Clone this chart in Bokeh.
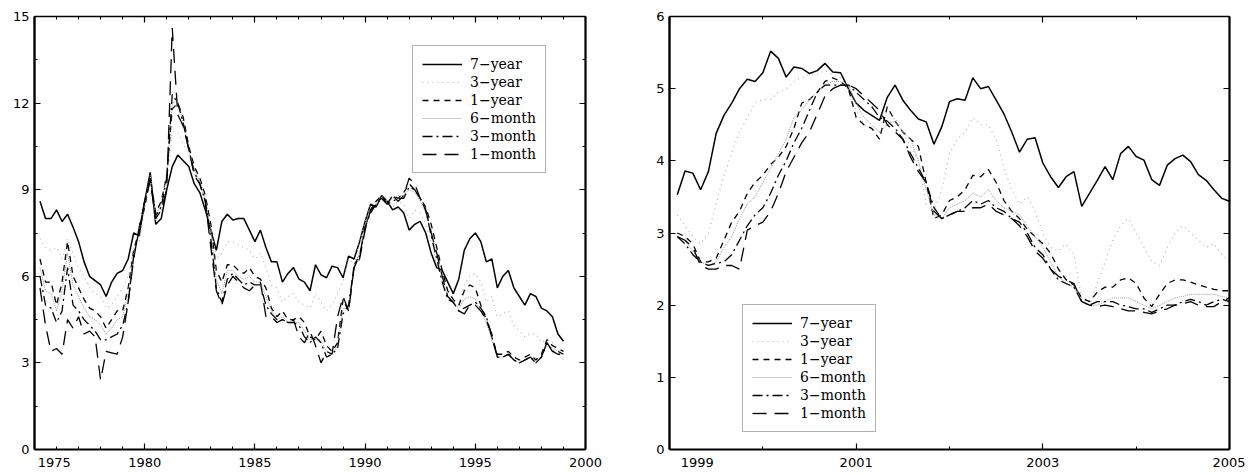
import numpy as np
from bokeh.plotting import figure
from bokeh.models import (FixedTicker, LinearAxis, Legend, LegendItem,
                          CustomJSTickFormatter, Range1d)
from bokeh.layouts import row
from bokeh.embed import file_html
from bokeh.resources import INLINE

# ---------------- data: left panel (quarterly, 1975Q2 .. 1999Q1) -------------
left_start = 1975.25
left_step = 0.25

seven_year_l = [8.6, 8.0, 8.0, 8.3, 7.9, 8.15, 7.7, 7.2, 6.5, 6.0, 5.85, 5.7,
                5.3, 5.8, 6.1, 6.2, 6.6, 7.5, 7.4, 8.6, 9.6, 7.8, 8.0, 9.0,
                9.8, 10.2, 10.0, 9.8, 9.2, 8.9, 8.3, 7.6, 6.9, 7.9, 8.15, 7.95,
                8.0, 8.0, 7.6, 7.2, 7.6, 7.0, 6.5, 6.5, 5.8, 6.1, 6.3, 5.9,
                5.8, 5.5, 6.4, 6.05, 5.95, 6.35, 6.3, 5.95, 6.7, 6.6, 7.2, 7.9,
                8.5, 8.4, 8.8, 8.6, 8.3, 8.4, 8.2, 7.6, 7.8, 7.9, 7.5, 6.8,
                6.3, 6.2, 5.8, 5.4, 5.9, 6.9, 7.3, 7.5, 7.2, 6.5, 6.6, 5.6,
                6.0, 6.2, 5.6, 5.3, 5.0, 5.4, 5.3, 4.9, 4.8, 4.6, 4.0, 3.75]

three_year_l = [7.3, 7.0, 6.9, 7.0, 6.6, 7.3, 6.8, 6.3, 6.0, 5.6, 5.4, 5.3,
                4.9, 5.0, 5.3, 5.6, 6.0, 7.0, 7.2, 8.3, 9.4, 7.9, 8.3, 9.2,
                11.0, 11.0, 10.6, 10.2, 9.5, 9.2, 8.6, 7.8, 6.6, 6.8, 7.2, 7.2,
                7.1, 7.0, 6.9, 6.6, 6.8, 6.3, 5.7, 5.6, 5.1, 5.3, 5.4, 5.1,
                5.0, 4.9, 5.4, 5.1, 4.8, 5.0, 5.4, 5.8, 6.6, 6.4, 7.2, 7.9,
                8.5, 8.5, 8.8, 8.6, 8.4, 8.6, 8.5, 8.0, 8.3, 8.2, 7.8, 7.2,
                6.4, 6.0, 5.5, 5.0, 5.0, 5.7, 6.0, 6.1, 5.8, 5.1, 5.3, 4.6,
                4.7, 4.8, 4.3, 4.1, 3.9, 4.0, 4.0, 3.7, 3.8, 3.7, 3.5, 3.1]

one_year_l = [6.6, 5.8, 5.8, 5.0, 5.8, 7.2, 6.0, 5.6, 5.2, 4.9, 4.8, 4.6,
              4.2, 4.5, 4.8, 4.8, 5.6, 6.9, 7.6, 8.4, 9.4, 8.2, 8.6, 9.5,
              11.8, 12.0, 11.5, 10.5, 9.8, 9.4, 8.8, 7.8, 6.2, 5.8, 6.4, 6.4,
              6.2, 6.1, 6.3, 6.0, 5.9, 5.6, 4.9, 4.6, 4.8, 4.5, 4.5, 4.6,
              4.4, 3.9, 3.8, 4.1, 3.6, 3.4, 3.7, 5.2, 4.8, 6.4, 6.7, 7.7,
              8.3, 8.6, 8.8, 8.5, 8.8, 8.7, 8.9, 9.2, 9.0, 8.7, 8.4, 7.8,
              7.0, 6.2, 5.5, 5.2, 5.0, 5.5, 5.7, 5.6, 5.0, 4.5, 3.9, 3.3,
              3.3, 3.4, 3.2, 3.1, 3.2, 3.3, 3.1, 3.3, 3.8, 3.6, 3.5, 3.4]

six_month_l = [6.3, 5.5, 5.4, 4.8, 5.5, 6.8, 5.7, 5.3, 4.9, 4.6, 4.5, 4.3,
               4.0, 4.2, 4.5, 4.6, 5.4, 6.8, 7.6, 8.5, 9.5, 8.1, 8.5, 9.6,
               12.0, 12.1, 11.3, 10.4, 9.7, 9.3, 8.7, 7.6, 5.9, 5.4, 6.2, 6.2,
               6.0, 5.9, 6.0, 5.8, 5.8, 5.3, 4.8, 4.5, 4.6, 4.4, 4.4, 4.4,
               4.1, 3.8, 3.8, 3.8, 3.4, 3.3, 3.6, 4.9, 4.9, 6.4, 6.8, 7.8,
               8.2, 8.5, 8.7, 8.5, 8.7, 8.8, 8.8, 9.0, 8.9, 8.6, 8.2, 7.6,
               6.8, 6.0, 5.3, 5.1, 4.9, 5.2, 5.3, 5.2, 4.8, 4.4, 3.8, 3.2,
               3.2, 3.3, 3.1, 3.0, 3.1, 3.2, 3.0, 3.2, 3.7, 3.5, 3.4, 3.3]

three_month_l = [6.0, 5.0, 4.9, 4.4, 4.8, 6.3, 5.0, 4.8, 4.5, 4.3, 4.1, 3.8,
                 3.8, 3.9, 4.0, 4.3, 5.1, 6.7, 7.6, 8.6, 9.4, 8.1, 8.4, 9.4,
                 12.3, 12.0, 11.3, 10.4, 9.6, 9.2, 8.6, 7.3, 5.6, 5.1, 5.9, 6.1,
                 5.9, 5.7, 5.8, 5.7, 5.7, 5.0, 4.7, 4.5, 4.5, 4.4, 4.4, 4.3,
                 3.9, 3.7, 3.9, 3.7, 3.2, 3.3, 3.5, 4.7, 5.0, 6.3, 6.7, 7.7,
                 8.2, 8.5, 8.7, 8.5, 8.6, 8.7, 8.7, 9.1, 9.0, 8.7, 8.3, 7.4,
                 6.6, 5.8, 5.2, 5.1, 4.8, 4.9, 5.0, 5.1, 4.9, 4.6, 3.9, 3.2,
                 3.2, 3.3, 3.1, 3.0, 3.1, 3.2, 3.0, 3.2, 3.7, 3.4, 3.4, 3.3]

one_month_l = [5.6, 4.3, 3.4, 3.5, 3.3, 4.5, 4.2, 4.6, 4.0, 4.1, 3.9, 2.4,
               3.4, 3.35, 3.3, 3.9, 5.1, 6.6, 7.7, 8.6, 9.3, 8.0, 8.3, 9.0,
               14.6, 11.6, 11.2, 10.4, 9.5, 9.2, 8.6, 7.0, 5.5, 5.0, 5.7, 6.0,
               5.8, 5.6, 5.5, 5.7, 5.8, 4.6, 4.6, 4.4, 4.5, 4.4, 4.5, 3.9,
               3.7, 4.1, 3.6, 3.0, 3.4, 3.3, 4.6, 5.3, 4.8, 6.3, 6.6, 7.6,
               8.3, 8.5, 8.7, 8.5, 8.8, 8.6, 8.8, 9.4, 9.2, 8.7, 8.3, 7.5,
               6.8, 6.0, 5.3, 5.1, 4.8, 4.7, 5.0, 5.0, 4.8, 4.5, 4.0, 3.2,
               3.2, 3.3, 3.1, 3.0, 3.1, 3.2, 3.0, 3.2, 3.7, 3.4, 3.3, 3.3]

# ---------------- data: right panel (monthly, Feb 1999 .. Jan 2005) ----------
right_start = 1999.0
months_per_year = 12

seven_year_r = [3.53, 3.86, 3.83, 3.6, 3.85, 4.38, 4.63, 4.8, 5.0, 5.13, 5.1, 5.22,
                5.52, 5.42, 5.16, 5.3, 5.28, 5.21, 5.25, 5.35, 5.23, 5.22, 5.0, 4.8,
                4.7, 4.63, 4.56, 4.88, 5.05, 4.84, 4.7, 4.58, 4.54, 4.23, 4.47, 4.82,
                4.86, 4.84, 5.15, 5.0, 5.03, 4.84, 4.65, 4.4, 4.12, 4.3, 4.32, 3.97,
                3.78, 3.63, 3.78, 3.85, 3.37, 3.55, 3.73, 3.92, 3.74, 4.1, 4.2, 4.06,
                4.01, 3.74, 3.66, 3.94, 4.03, 4.08, 3.99, 3.81, 3.73, 3.6, 3.48, 3.44]

three_year_r = [3.25, 3.1, 2.95, 2.85, 3.0, 3.4, 3.8, 4.1, 4.4, 4.6, 4.8, 4.85,
                4.85, 4.95, 5.0, 5.1, 5.15, 5.2, 5.2, 5.25, 5.2, 5.15, 5.0, 4.7,
                4.5, 4.45, 4.4, 4.5, 4.6, 4.4, 4.2, 4.0, 3.4, 3.3, 3.6, 4.1,
                4.3, 4.4, 4.6, 4.5, 4.5, 4.3, 3.9, 3.6, 3.4, 3.5, 3.3, 3.0,
                2.8, 2.75, 2.85, 2.7, 2.1, 2.0, 2.3, 2.6, 2.9, 3.1, 3.2, 3.0,
                2.8, 2.6, 2.55, 2.8, 3.0, 3.1, 3.0, 2.9, 2.8, 2.85, 2.7, 2.6]

one_year_r = [3.0, 2.95, 2.85, 2.6, 2.6, 2.65, 2.9, 3.15, 3.3, 3.55, 3.7, 3.8,
              3.95, 4.05, 4.2, 4.45, 4.8, 4.85, 4.95, 5.1, 5.15, 5.1, 5.0, 4.6,
              4.5, 4.45, 4.3, 4.75, 4.55, 4.4, 4.3, 4.2, 3.7, 3.2, 3.25, 3.45,
              3.5, 3.6, 3.8, 3.78, 3.88, 3.7, 3.45, 3.3, 3.2, 3.05, 2.95, 2.85,
              2.72, 2.5, 2.35, 2.28, 2.1, 2.05, 2.18, 2.25, 2.25, 2.35, 2.38, 2.3,
              2.1, 1.98, 2.15, 2.3, 2.35, 2.35, 2.32, 2.28, 2.25, 2.22, 2.2, 2.2]

six_month_r = [2.95, 2.9, 2.75, 2.6, 2.55, 2.6, 2.8, 2.95, 3.2, 3.4, 3.5, 3.7,
               3.9, 4.1, 4.3, 4.6, 4.7, 4.85, 4.95, 5.05, 5.1, 5.1, 5.05, 4.8,
               4.6, 4.5, 4.4, 4.5, 4.55, 4.4, 4.3, 4.0, 3.6, 3.25, 3.2, 3.35,
               3.4, 3.45, 3.55, 3.5, 3.6, 3.45, 3.35, 3.3, 3.25, 3.1, 2.95, 2.8,
               2.6, 2.4, 2.3, 2.25, 2.05, 2.0, 2.0, 2.05, 2.1, 2.1, 2.1, 2.05,
               2.0, 1.95, 2.0, 2.05, 2.1, 2.12, 2.15, 2.15, 2.15, 2.15, 2.12, 2.1]

three_month_r = [2.95, 2.85, 2.7, 2.6, 2.55, 2.58, 2.6, 2.7, 2.9, 3.1, 3.25, 3.35,
                 3.55, 3.8, 4.0, 4.25, 4.45, 4.7, 4.95, 5.05, 5.05, 5.05, 5.05, 4.95,
                 4.85, 4.75, 4.6, 4.55, 4.45, 4.3, 4.1, 3.9, 3.7, 3.35, 3.2, 3.25,
                 3.3, 3.35, 3.45, 3.4, 3.45, 3.35, 3.3, 3.2, 3.15, 3.0, 2.8, 2.7,
                 2.5, 2.35, 2.3, 2.25, 2.05, 2.0, 2.05, 2.05, 2.05, 2.0, 1.98, 1.95,
                 1.95, 1.9, 1.95, 2.0, 2.0, 2.05, 2.08, 2.05, 2.0, 2.05, 2.08, 2.05]

one_month_r = [2.95, 2.9, 2.8, 2.55, 2.5, 2.5, 2.55, 2.55, 2.5, 3.04, 3.1, 3.15,
               3.3, 3.55, 3.85, 4.05, 4.25, 4.4, 4.65, 4.9, 5.0, 5.05, 5.05, 5.0,
               4.9, 4.8, 4.7, 4.5, 4.4, 4.3, 4.05, 3.85, 3.7, 3.3, 3.2, 3.25,
               3.3, 3.3, 3.35, 3.35, 3.4, 3.3, 3.25, 3.2, 3.1, 2.95, 2.75, 2.65,
               2.5, 2.4, 2.35, 2.3, 2.05, 2.0, 1.98, 2.0, 1.98, 1.95, 1.92, 1.92,
               1.9, 1.88, 1.92, 1.95, 2.0, 2.02, 2.05, 2.0, 1.98, 1.98, 2.05, 2.1]

labels = ["7\u2212year", "3\u2212year", "1\u2212year",
          "6\u2212month", "3\u2212month", "1\u2212month"]

left_xticks = [1975, 1980, 1985, 1990, 1995, 2000]
right_xticks = [1999, 2001, 2003, 2005]
left_yticks = [0, 3, 6, 9, 12, 15]
right_yticks = [0, 1, 2, 3, 4, 5, 6]

# ---------------- styles --------------------------------------------------
styles = [
    dict(line_color="#000000", line_width=1.5, line_dash="solid"),
    dict(line_color="#b4b4b4", line_width=1.2, line_dash="1 4"),
    dict(line_color="#000000", line_width=1.3, line_dash="6 5"),
    dict(line_color="#9a9a9a", line_width=1.0, line_dash="1 1"),
    dict(line_color="#000000", line_width=1.3, line_dash="10 4 2 4"),
    dict(line_color="#000000", line_width=1.3, line_dash="14 8"),
]

TICK_FONT = "DejaVu Sans"
NBSP = "\u00a0" * 9


def style_axis(ax, thick=2.0, show_labels=True):
    ax.axis_line_width = thick
    ax.axis_line_color = "black"
    ax.major_tick_in = 6
    ax.major_tick_out = 0
    ax.minor_tick_in = 3
    ax.minor_tick_out = 0
    ax.major_tick_line_width = 1.2
    ax.minor_tick_line_width = 1.0
    ax.major_label_text_font = TICK_FONT
    ax.major_label_text_font_size = "13px"
    ax.major_label_text_color = "black"
    ax.major_label_standoff = 5
    if not show_labels:
        ax.formatter = CustomJSTickFormatter(code="return ''")
        ax.major_label_standoff = 0


def make_panel(width, x_range, y_range, xt, xminor, yt, yminor, xs, series,
               legend_loc, border_left, border_right):
    p = figure(width=width, height=472, x_range=Range1d(*x_range),
               y_range=Range1d(*y_range), output_backend="svg",
               toolbar_location=None, min_border_left=border_left,
               min_border_right=border_right, min_border_top=16,
               min_border_bottom=22, background_fill_color="white",
               border_fill_color="white")
    p.outline_line_color = None
    p.grid.visible = False

    p.xaxis.ticker = FixedTicker(ticks=xt, minor_ticks=xminor)
    p.yaxis.ticker = FixedTicker(ticks=yt, minor_ticks=yminor)
    style_axis(p.xaxis[0], 2.2)
    style_axis(p.yaxis[0], 2.4)
    # first x label sits just right of the corner, as in the source
    p.xaxis[0].major_label_overrides = {xt[0]: NBSP + str(xt[0])}

    top = LinearAxis(ticker=FixedTicker(ticks=xt, minor_ticks=xminor))
    style_axis(top, 1.3, show_labels=False)
    p.add_layout(top, "above")
    right = LinearAxis(ticker=FixedTicker(ticks=yt, minor_ticks=yminor))
    style_axis(right, 2.2, show_labels=False)
    p.add_layout(right, "right")

    items = []
    for lab, ys, st in zip(labels, series, styles):
        r = p.line(xs, ys, **st)
        items.append(LegendItem(label=lab, renderers=[r]))

    legend = Legend(items=items, location=legend_loc,
                    label_text_font="DejaVu Serif",
                    label_text_font_size="14px", label_text_color="black",
                    label_height=18, glyph_height=18, glyph_width=40,
                    spacing=0, padding=9, margin=0, label_standoff=8,
                    border_line_color="#666666", border_line_width=1.5,
                    background_fill_color="white", background_fill_alpha=1.0)
    p.add_layout(legend)
    return p


xs_left = left_start + left_step * np.arange(len(seven_year_l))
xs_right = right_start + np.arange(1, len(seven_year_r) + 1) / months_per_year

left_series = [seven_year_l, three_year_l, one_year_l, six_month_l,
               three_month_l, one_month_l]
right_series = [seven_year_r, three_year_r, one_year_r, six_month_r,
                three_month_r, one_month_r]

p1 = make_panel(643, (1975, 2000), (0, 15),
                left_xticks, list(range(1975, 2001)),
                left_yticks, [i * 1.5 for i in range(11)],
                xs_left, left_series, (378, 276), 34, 58)

p2 = make_panel(602, (1999, 2005), (0, 6),
                right_xticks, [2000, 2002, 2004],
                right_yticks, [],
                xs_right, right_series, (73, 17), 26, 16)

layout = row(p1, p2)
open("out.html", "w").write(file_html(layout, INLINE))
